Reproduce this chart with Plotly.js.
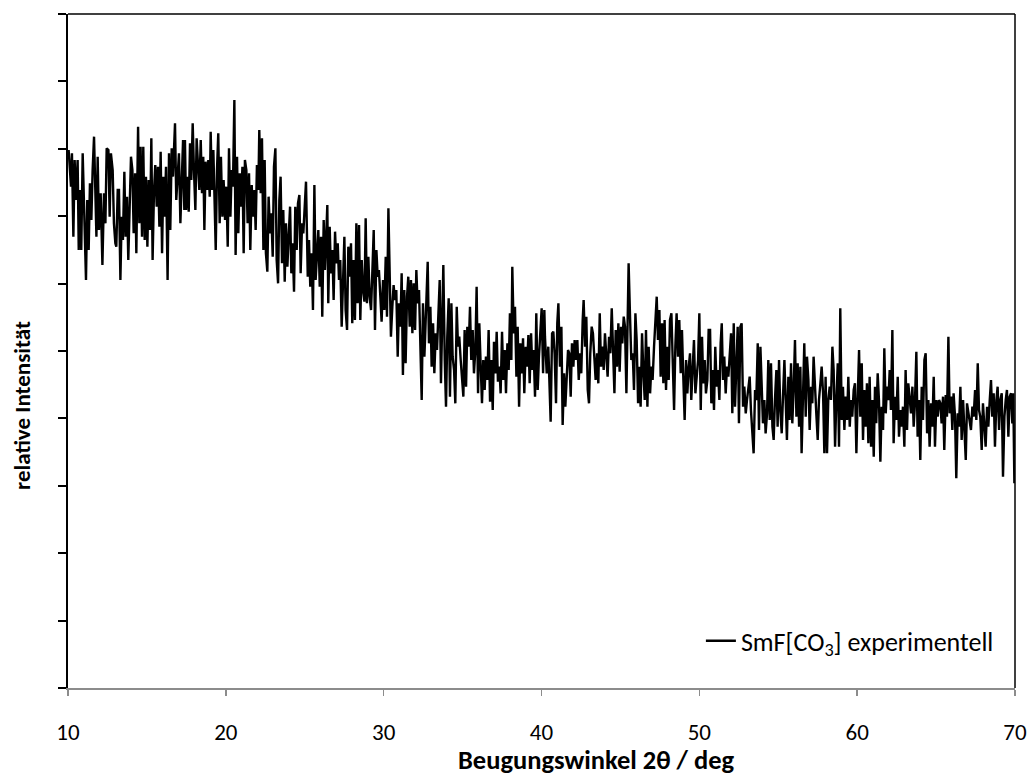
<!DOCTYPE html>
<html>
<head>
<meta charset="utf-8">
<script src="https://cdn.plot.ly/plotly-3.0.1.min.js"></script>
<style>
html,body{margin:0;padding:0;background:#fff;}
#chart{width:1032px;height:776px;}
</style>
</head>
<body>
<div id="chart"></div>
<script>
// Diffraction angle 2theta (deg) and relative intensity (arbitrary counts) in six segments
const angleSeg1 = [10.04,10.19,10.25,10.34,10.42,10.51,10.61,10.68,10.76,10.84,10.93,11.03,11.14,11.22,11.31,11.39,11.48,11.56,11.65,11.73,11.80,11.88,11.96,12.07,12.18,12.28,12.37,12.45,12.56,12.64,12.72,12.83,12.91,13.00,13.06,13.15,13.23,13.32,13.40,13.48,13.57,13.65,13.74,13.82,13.91,13.99,14.08,14.16,14.25,14.33,14.44,14.52,14.60,14.69,14.77,14.86,14.94,15.03,15.11,15.20,15.28,15.36,15.45,15.53,15.62,15.70,15.79,15.87,15.96,16.04,16.12,16.21,16.31,16.40,16.48,16.57,16.65,16.78,16.86,16.95,17.03,17.12,17.20,17.29,17.37];
const countsSeg1 = [1614,1504,1604,1354,1584,1464,1584,1314,1494,1314,1604,1394,1224,1464,1314,1514,1404,1554,1654,1494,1354,1594,1374,1484,1269,1484,1394,1619,1614,1414,1604,1554,1394,1334,1324,1494,1494,1224,1414,1344,1549,1354,1474,1284,1464,1594,1554,1364,1544,1304,1684,1394,1624,1354,1624,1344,1534,1324,1524,1374,1649,1284,1494,1569,1444,1564,1384,1609,1304,1534,1414,1564,1224,1604,1374,1619,1534,1694,1464,1524,1604,1394,1514,1644,1434];

const angleSeg2 = [17.41,17.48,17.58,17.65,17.73,17.81,17.90,17.98,18.07,18.15,18.24,18.32,18.41,18.49,18.57,18.64,18.72,18.81,18.89,18.98,19.04,19.12,19.21,19.29,19.36,19.44,19.52,19.61,19.69,19.78,19.86,19.95,20.03,20.12,20.20,20.29,20.37,20.45,20.54,20.62,20.71,20.79,20.88,20.96,21.05,21.13,21.21,21.30,21.38,21.47,21.55,21.64,21.72,21.81,21.89,21.97,22.06,22.12,22.21,22.29,22.38,22.46,22.54,22.63,22.71,22.80,22.88,22.97,23.05,23.14,23.22,23.31,23.39,23.47,23.56,23.64,23.73,23.81,23.90,23.98,24.07,24.15,24.23,24.32,24.40,24.49,24.57,24.66,24.74,24.83,24.91];
const countsSeg2 = [1644,1434,1534,1429,1634,1524,1694,1554,1434,1649,1544,1494,1644,1484,1594,1374,1579,1494,1584,1474,1669,1494,1614,1464,1314,1554,1664,1394,1594,1414,1524,1404,1504,1324,1619,1414,1554,1504,1764,1299,1594,1364,1544,1444,1564,1304,1584,1554,1394,1544,1314,1509,1414,1494,1374,1569,1494,1674,1484,1649,1314,1584,1304,1249,1474,1364,1424,1294,1564,1619,1284,1214,1464,1534,1274,1434,1219,1394,1264,1354,1444,1244,1334,1189,1444,1314,1454,1479,1244,1394,1364];

const angleSeg3 = [25.08,25.19,25.27,25.35,25.44,25.52,25.61,25.69,25.78,25.86,25.95,26.03,26.11,26.20,26.28,26.37,26.43,26.49,26.58,26.66,26.75,26.83,26.92,27.00,27.09,27.17,27.25,27.34,27.42,27.51,27.59,27.68,27.76,27.85,27.93,28.01,28.10,28.18,28.27,28.35,28.44,28.52,28.61,28.69,28.78,28.86,28.94,29.03,29.11,29.20,29.28,29.37,29.45,29.54,29.62,29.70,29.79,29.87,29.96,30.04,30.13,30.21,30.30,30.38,30.46,30.55,30.63,30.72,30.80,30.89,30.97,31.06,31.14,31.22,31.31,31.39,31.48,31.56,31.65,31.73,31.82,31.90,31.99,32.07,32.15,32.24,32.32,32.41,32.49,32.58];
const countsSeg3 = [1519,1234,1344,1204,1304,1134,1509,1224,1304,1374,1204,1354,1114,1404,1254,1394,1449,1154,1384,1244,1314,1164,1369,1274,1334,1224,1284,1084,1204,1354,1134,1074,1324,1234,1334,1094,1284,1104,1394,1154,1389,1104,1284,1194,1159,1409,1154,1294,1174,1134,1244,1374,1074,1314,1234,1254,1174,1099,1224,1134,1294,1114,1439,1204,1054,1144,1209,1164,1194,994,1154,1084,1244,939,1194,974,1174,1234,1084,1224,1064,1214,1074,1254,1154,1194,999,864,1154,994];

const angleSeg4 = [32.62,32.70,32.79,32.87,32.96,33.04,33.13,33.21,33.30,33.38,33.46,33.55,33.63,33.72,33.78,33.87,33.95,34.03,34.12,34.20,34.29,34.37,34.46,34.54,34.63,34.71,34.79,34.88,34.96,35.05,35.13,35.22,35.30,35.39,35.47,35.55,35.64,35.72,35.81,35.89,35.98,36.06,36.15,36.23,36.31,36.40,36.48,36.57,36.65,36.74,36.82,36.91,36.99,37.08,37.16,37.24,37.33,37.41,37.50,37.58,37.67,37.75,37.84,37.92,38.00,38.09,38.15,38.24,38.32,38.41,38.49,38.58,38.66,38.74,38.83,38.91,39.00,39.08,39.17,39.25,39.34,39.42,39.50,39.59,39.67,39.76,39.84,39.93,40.01,40.10,40.18];
const countsSeg4 = [1044,1194,1279,1034,1144,964,1094,944,1064,1014,1144,1224,914,1114,1269,984,844,1054,1169,874,1154,994,954,854,1144,1024,1054,984,934,874,1074,904,1084,1024,1144,984,1074,944,1014,1204,884,1094,964,854,984,894,994,924,1074,859,984,834,1039,944,1069,919,964,884,1069,924,1014,884,1034,954,1124,984,1264,1064,1144,934,1084,844,1034,944,1049,884,1024,964,1059,914,1064,954,1014,874,1124,894,994,1064,1139,944,1134];

const angleSeg5 = [40.22,40.33,40.43,40.58,40.67,40.75,40.83,40.92,41.00,41.07,41.17,41.26,41.34,41.43,41.51,41.60,41.68,41.76,41.85,41.93,42.02,42.10,42.19,42.27,42.36,42.44,42.52,42.61,42.67,42.76,42.84,42.93,43.01,43.09,43.18,43.26,43.35,43.43,43.52,43.60,43.69,43.77,43.86,43.94,44.02,44.11,44.19,44.28,44.36,44.45,44.53,44.62,44.70,44.78,44.87,44.95,45.04,45.12,45.21,45.29,45.38,45.46,45.52,45.61,45.69,45.78,45.86,45.95,46.03,46.12,46.20,46.28,46.37,46.45,46.54,46.62,46.71,46.79,46.88,46.96,47.04,47.13,47.21,47.30,47.38,47.47,47.55,47.64,47.72,47.80,47.89,47.97,48.06,48.14,48.23,48.31,48.40,48.48,48.56,48.65,48.73,48.82,48.90,48.99,49.07,49.16,49.24,49.33,49.41,49.49,49.58,49.66,49.75,49.83,49.92,50.00,50.09,50.17,50.25,50.34,50.42,50.51,50.59];
const countsSeg5 = [1054,944,1024,799,1064,1069,1004,854,1094,1154,964,1084,789,944,844,934,1014,1004,874,1034,964,1044,984,1044,924,1004,944,1104,1164,1024,1114,894,854,1004,1084,1064,974,924,1004,914,1124,964,1024,954,1064,984,934,1054,1004,1139,1024,884,1074,964,1094,949,1084,1034,1114,1084,884,1074,1274,1114,984,1004,894,1124,1044,854,964,844,1064,954,864,1074,844,1024,884,964,924,1024,1084,1174,1044,1134,934,1094,914,1104,894,1024,924,1104,1124,944,834,1024,1124,994,1104,944,1074,924,804,984,884,964,1004,864,964,1044,884,924,984,1124,834,1054,914,984,884,924,1074];

const angleSeg6 = [50.68,50.76,50.85,50.93,51.01,51.10,51.18,51.27,51.35,51.42,51.50,51.58,51.67,51.75,51.84,51.92,52.01,52.09,52.18,52.26,52.34,52.43,52.51,52.60,52.68,52.77,52.85,52.94,53.02,53.10,53.19,53.27,53.36,53.44,53.53,53.61,53.70,53.78,53.87,53.95,54.03,54.12,54.20,54.29,54.37,54.46,54.54,54.63,54.71,54.79,54.88,54.96,55.05,55.13,55.22,55.30,55.39,55.47,55.55,55.64,55.72,55.81,55.89,55.98,56.06,56.15,56.23,56.32,56.40,56.48,56.57,56.65,56.74,56.82,56.91,56.99,57.08,57.16,57.24,57.33,57.41,57.50,57.58,57.67,57.75,57.84,57.92,58.00,58.09,58.17,58.26,58.34,58.43,58.51,58.60,58.68,58.77,58.85,58.93,59.02,59.10,59.19,59.27,59.36,59.44,59.53,59.61,59.69,59.78,59.86,59.95,60.03,60.12,60.20,60.29,60.37,60.45,60.54,60.62,60.71,60.79,60.88,60.96,61.05,61.13,61.21,61.30,61.38,61.47,61.55,61.64,61.72,61.81,61.89,61.98,62.06,62.14,62.23,62.31,62.40,62.48,62.57,62.65,62.74,62.82,62.90,62.99,63.07,63.16,63.24,63.33,63.41,63.50,63.58,63.66,63.75,63.83,63.92,64.00,64.09,64.17,64.26,64.34,64.43,64.51,64.59,64.68,64.76,64.85,64.93,65.02,65.10,65.19,65.27,65.35,65.44,65.52,65.61,65.69,65.78,65.86,65.95,66.03,66.11,66.20,66.28,66.37,66.45,66.54,66.62,66.71,66.79,66.88,66.96,67.04,67.13,67.21,67.30,67.38,67.47,67.55,67.64,67.72,67.80,67.89,67.97,68.06,68.14,68.23,68.31,68.40,68.48,68.56,68.65,68.73,68.82,68.90,68.99,69.07,69.16,69.24,69.33,69.41,69.49,69.58,69.66,69.75,69.83,69.89,69.96];
const countsSeg6 = [1074,854,954,834,1024,904,954,864,1034,1094,924,994,884,964,934,1014,1064,824,1094,844,934,1084,794,1084,1094,844,904,824,864,904,934,834,774,704,894,864,1034,774,1024,924,794,864,764,824,984,804,974,784,744,864,954,784,984,834,764,874,984,864,744,934,804,974,794,904,1044,814,974,784,964,704,864,1034,814,994,924,774,904,854,994,884,824,744,864,914,964,884,704,934,704,864,904,864,1024,954,724,864,974,724,1139,804,904,774,874,804,934,784,864,814,894,914,704,864,1014,814,974,744,894,784,914,734,934,724,864,694,904,794,944,864,679,844,774,1019,824,904,864,954,834,1074,734,874,804,934,754,834,784,844,724,954,774,914,864,824,904,784,854,1009,754,864,684,904,804,984,1004,764,864,724,854,784,934,724,864,814,864,854,794,874,714,879,814,1054,824,874,774,884,814,629,824,784,904,744,864,784,684,854,824,804,774,844,814,894,804,974,834,814,714,854,784,724,844,784,864,924,814,884,724,864,904,774,864,884,634,814,864,894,754,874,884,794,884,614];

const xTickValues = [10, 20, 30, 40, 50, 60, 70];
const seriesName = 'SmF[CO<sub>3</sub>] experimentell';
const xTitle = 'Beugungswinkel 2θ / deg';
const yTitle = 'relative Intensität';

const angle = [].concat(angleSeg1, angleSeg2, angleSeg3, angleSeg4, angleSeg5, angleSeg6);
const counts = [].concat(countsSeg1, countsSeg2, countsSeg3, countsSeg4, countsSeg5, countsSeg6);

const FONT = 'Carlito, Lato, "Open Sans", sans-serif';

const trace = {
  x: angle,
  y: counts,
  type: 'scatter',
  mode: 'lines',
  name: seriesName,
  line: {color: '#000000', width: 2.4},
  hoverinfo: 'x+y'
};

const layout = {
  width: 1032,
  height: 776,
  margin: {l: 68, r: 17, t: 14, b: 88},
  paper_bgcolor: '#ffffff',
  plot_bgcolor: '#ffffff',
  font: {family: FONT, color: '#000000', size: 23},
  showlegend: true,
  legend: {
    x: 0.983, xanchor: 'right',
    y: 0.07, yanchor: 'middle',
    bgcolor: 'rgba(0,0,0,0)',
    borderwidth: 0,
    font: {family: FONT, size: 26, color: '#000000'}
  },
  xaxis: {
    range: [10, 70],
    tickvals: xTickValues,
    ticks: 'outside',
    ticklen: 6,
    tickwidth: 1.5,
    tickcolor: '#8c8c8c',
    showline: true,
    linecolor: '#8c8c8c',
    linewidth: 1.5,
    showgrid: false,
    zeroline: false,
    ticklabelstandoff: 17,
    tickfont: {family: FONT, size: 23, color: '#000000'}
  },
  yaxis: {
    range: [0, 2022],
    tick0: 0,
    dtick: 202.2,
    ticks: 'outside',
    ticklen: 8,
    tickwidth: 2,
    tickcolor: '#000000',
    showticklabels: false,
    showline: true,
    linecolor: '#000000',
    linewidth: 2,
    showgrid: false,
    zeroline: false
  },
  shapes: [
    {type: 'line', xref: 'paper', yref: 'paper', x0: 0, x1: 1, y0: 1, y1: 1, line: {color: '#000000', width: 1.5}, layer: 'above'},
    {type: 'line', xref: 'paper', yref: 'paper', x0: 1, x1: 1, y0: 0, y1: 1, line: {color: '#000000', width: 1.5}, layer: 'above'}
  ],
  annotations: [
    {text: xTitle, xref: 'paper', yref: 'paper', x: 0.5585, y: -0.107, xanchor: 'center', yanchor: 'middle', showarrow: false, font: {family: FONT, size: 26.5, weight: 'bold', color: '#000000'}},
    {text: yTitle, xref: 'paper', yref: 'paper', x: -0.0486, y: 0.42, xanchor: 'center', yanchor: 'middle', textangle: -90, showarrow: false, font: {family: FONT, size: 23, weight: 'bold', color: '#000000'}}
  ]
};

Plotly.newPlot('chart', [trace], layout, {displayModeBar: false, staticPlot: true});
</script>
</body>
</html>
